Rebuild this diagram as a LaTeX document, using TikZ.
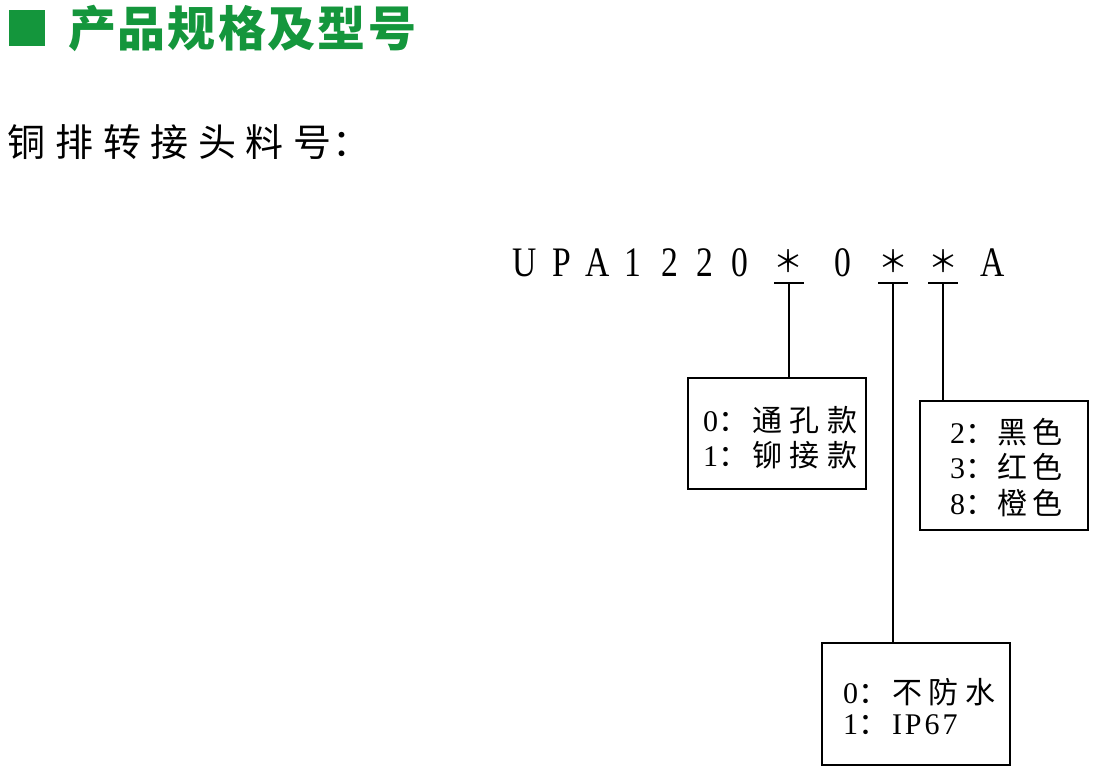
\documentclass[tikz,border=0pt]{standalone}
\usepackage{fontspec}
\setmainfont{Liberation Serif}
\newfontfamily\cjk{Noto Sans CJK SC}
\definecolor{titlegreen}{RGB}{20,150,60}
\newcommand\cc[1]{\scalebox{0.8}[1]{#1}}
\begin{document}
\begin{tikzpicture}[x=1pt,y=-1pt,
  every node/.style={inner sep=0pt, outer sep=0pt},
  boxtext/.style={anchor=west, font=\fontsize{30pt}{30pt}\selectfont},
  codechar/.style={font=\fontsize{42pt}{42pt}\selectfont},
  frame/.style={draw, line width=1.8pt, rectangle},
  wire/.style={line width=1.8pt}
]
\useasboundingbox[fill=white] (0,0) rectangle (1107,783);

% title
\node[fill=titlegreen, minimum width=36pt, minimum height=36pt] (sq) at (27,28) {};
\node[anchor=west, text=titlegreen, font=\fontsize{48pt}{48pt}\selectfont\cjk\bfseries] (title) at (68,28)
  {产\kern2pt品\kern2pt规\kern2pt格\kern2pt及\kern2pt型\kern2pt号};

% subtitle
\node[anchor=west, font=\fontsize{38pt}{38pt}\selectfont\cjk] (sub) at (8,142)
  {铜\kern9.6pt排\kern9.6pt转\kern9.6pt接\kern9.6pt头\kern9.6pt料\kern9.6pt号\kern1pt：};

% code
\node[codechar] (c1) at (525,263) {\cc{U}};
\node[codechar] (c2) at (562,263) {\cc{P}};
\node[codechar] (c3) at (598,263) {\cc{A}};
\node[codechar] (c4) at (633,263) {\cc{1}};
\node[codechar] (c5) at (670,263) {\cc{2}};
\node[codechar] (c6) at (705,263) {\cc{2}};
\node[codechar] (c7) at (740,263) {\cc{0}};
\node[font=\fontsize{30pt}{30pt}\selectfont\cjk] (c8) at (788,261) {＊};
\node[codechar] (c9) at (843,263) {\cc{0}};
\node[font=\fontsize{30pt}{30pt}\selectfont\cjk] (c10) at (893,261) {＊};
\node[font=\fontsize{30pt}{30pt}\selectfont\cjk] (c11) at (943,261) {＊};
\node[codechar] (c12) at (993,263) {\cc{A}};

% underline bars
\coordinate (b1) at (789,283);
\coordinate (b2) at (893,283);
\coordinate (b3) at (943,283);
\draw[wire] ([xshift=-15pt]b1) -- ([xshift=15pt]b1);
\draw[wire] ([xshift=-15pt]b2) -- ([xshift=15pt]b2);
\draw[wire] ([xshift=-15pt]b3) -- ([xshift=15pt]b3);

% boxes
\node[frame, minimum width=178pt, minimum height=111pt] (box1) at (777,433.5) {};
\node[frame, minimum width=168pt, minimum height=129pt] (box2) at (1004,465.5) {};
\node[frame, minimum width=188pt, minimum height=122pt] (box3) at (916,704) {};

% connectors
\draw[wire] (b1) -- (b1 |- box1.north);
\draw[wire] (b2) -- (b2 |- box3.north);
\draw[wire] (b3) -- (b3 |- box2.north);

% box texts
\node[boxtext] (t11) at (703,420) {0{\cjk：\kern5pt通\kern7pt孔\kern7pt款}};
\node[boxtext] (t12) at (703,455) {1{\cjk：\kern5pt铆\kern7pt接\kern7pt款}};

\node[boxtext] (t21) at (950,432) {2{\cjk：\kern3pt黑\kern5pt色}};
\node[boxtext] (t22) at (950,467) {3{\cjk：\kern3pt红\kern5pt色}};
\node[boxtext] (t23) at (950,503) {8{\cjk：\kern3pt橙\kern5pt色}};

\node[boxtext] (t31) at (843,692) {0{\cjk：\kern4pt不\kern7pt防\kern7pt水}};
\node[boxtext] (t32) at (843,725) {1{\cjk：}\kern4pt I\kern3pt P\kern3pt 6\kern3pt 7};
\end{tikzpicture}
\end{document}
